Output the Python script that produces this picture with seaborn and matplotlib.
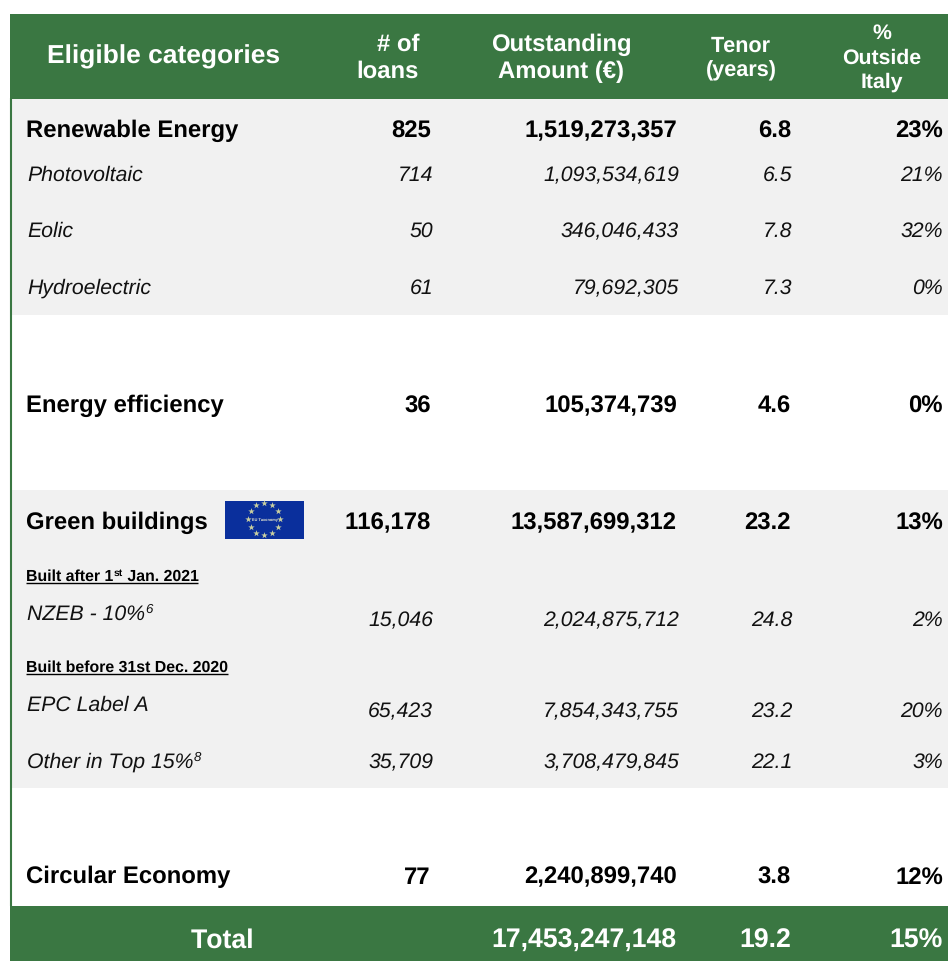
import matplotlib.pyplot as plt
import numpy as np
import seaborn as sns

sns.set_theme(style="white")
plt.rcParams["font.family"] = ["Liberation Sans", "DejaVu Sans"]
plt.rcParams["text.hinting"] = "no_hinting"
plt.rcParams["text.kerning_factor"] = 6

GREEN = "#3A7742"
GREY = "#F1F1F1"
FLAG_BLUE = "#0A2F9C"

# table values
categories = ["Renewable Energy", "Photovoltaic", "Eolic", "Hydroelectric",
              "Energy efficiency", "Green buildings", "NZEB - 10%", "EPC Label A",
              "Other in Top 15%", "Circular Economy"]
footnotes = [None, None, None, None, None, None, "6", None, "8", None]
is_main = [True, False, False, False, True, True, False, False, False, True]
loans = [825, 714, 50, 61, 36, 116178, 15046, 65423, 35709, 77]
amounts = [1519273357, 1093534619, 346046433, 79692305, 105374739,
           13587699312, 2024875712, 7854343755, 3708479845, 2240899740]
tenor = [6.8, 6.5, 7.8, 7.3, 4.6, 23.2, 24.8, 23.2, 22.1, 3.8]
outside_italy = [23, 21, 32, 0, 0, 13, 2, 20, 3, 12]

total_label = "Total"
total_amount = 17453247148
total_tenor = 19.2
total_outside = 15

# layout, in pixels of the output image
label_base = [137, 181, 237, 294, 412, 529, 620, 711, 768, 883]
value_base = [137, 181, 237, 294, 412, 529, 626, 717, 768, 883]
main_right = [431, 677, 791, 943]
sub_right = [433, 679, 792, 943]

fig, ax = plt.subplots(figsize=(9.48, 9.62), dpi=100)
fig.subplots_adjust(0, 0, 1, 1)
ax.set_xlim(0, 948)
ax.set_ylim(962, 0)
ax.set_axis_off()
sns.despine(ax=ax, left=True, bottom=True)

# bands
ax.axhspan(99.5, 315.5, xmin=11 / 948, color=GREY, lw=0)
ax.axhspan(490.5, 788.5, xmin=11 / 948, color=GREY, lw=0)
ax.axhspan(14.5, 99.5, xmin=10 / 948, color=GREEN, lw=0)
ax.axhspan(906.5, 964, xmin=10 / 948, color=GREEN, lw=0)
ax.vlines(11, 99, 907, color=GREEN, lw=1.5)

# header
head = dict(color="white", fontweight="bold", ha="center", va="baseline", linespacing=1.0)
ax.text(164, 63, "Eligible categories", fontsize=19, **head)
ax.text(398, 51, "# of", fontsize=17.2, **head)
ax.text(388, 78, "loans", fontsize=17.2, **head)
ax.text(561, 51, "Outstanding", fontsize=17.2, **head)
ax.text(561, 78, "Amount (€)", fontsize=17.2, **head)
ax.text(741, 52, "Tenor", fontsize=15.6, **head)
ax.text(741, 76, "(years)", fontsize=15.6, **head)
ax.text(882, 39, "%", fontsize=15.3, **head)
ax.text(882, 64, "Outside", fontsize=15.3, **head)
ax.text(882, 88, "Italy", fontsize=15.3, **head)

fig.canvas.draw()
renderer = fig.canvas.get_renderer()
to_data = ax.transData.inverted()


def right_edge(txt):
    box = txt.get_window_extent(renderer)
    return to_data.transform((box.x1, box.y0))[0]


# rows
for i, name in enumerate(categories):
    if is_main[i]:
        style = dict(fontsize=17.2, fontweight="bold", color="black", va="baseline")
        label_x, right = 26, main_right
    else:
        style = dict(fontsize=15.3, fontstyle="italic", color="#111111", va="baseline")
        label_x, right = 27, sub_right
    label = ax.text(label_x, label_base[i], name, **style)
    if footnotes[i]:
        ax.text(right_edge(label) + 0.5, label_base[i] - 7, footnotes[i],
                fontsize=9.5, fontstyle="italic", color="#111111", va="baseline")
    cells = [f"{loans[i]:,}", f"{amounts[i]:,}", f"{tenor[i]:.1f}", f"{outside_italy[i]}%"]
    for x, cell in zip(right, cells):
        # bold strings without a comma land a pixel high after agg rounding
        nudge = 1 if is_main[i] and "," not in cell else 0
        ax.text(x, value_base[i] + nudge, cell, ha="right", **style)

# underlined small headings
small = dict(fontsize=11.4, fontweight="bold", color="black", va="baseline")
t1 = ax.text(26, 581, "Built after 1", **small)
x1 = right_edge(t1)
t2 = ax.text(x1, 576, "st", fontsize=7.5, fontweight="bold", color="black", va="baseline")
x2 = right_edge(t2)
t3 = ax.text(x2, 581, " Jan. 2021", **small)
ax.hlines(583.5, 26, right_edge(t3), color="black", lw=1)
t4 = ax.text(26, 672, "Built before 31st Dec. 2020", **small)
ax.hlines(674.5, 26, right_edge(t4), color="black", lw=1)

# taxonomy flag
ax.fill_between([225, 304], 501.5, 539.5, color=FLAG_BLUE, lw=0)
angles = np.linspace(0, 2 * np.pi, 12, endpoint=False)
ax.scatter(264.5 + 16 * np.sin(angles), 520 + 16 * np.cos(angles), marker="*", s=24,
           color="#C9CFA0", lw=0, zorder=3)
ax.text(264.5, 520, "EU Taxonomy", fontsize=2.8, fontweight="bold", color="#E8E8D0",
        ha="center", va="center", zorder=3)

# total row
foot = dict(color="white", fontweight="bold", va="baseline", fontsize=19.2)
ax.text(222, 948, total_label, ha="center", **foot)
ax.text(676, 948, f"{total_amount:,}", ha="right", **foot)
ax.text(791, 948, f"{total_tenor:.1f}", ha="right", **foot)
ax.text(943, 948, f"{total_outside}%", ha="right", **foot)

fig.savefig("out.png", dpi=100, facecolor="white")
